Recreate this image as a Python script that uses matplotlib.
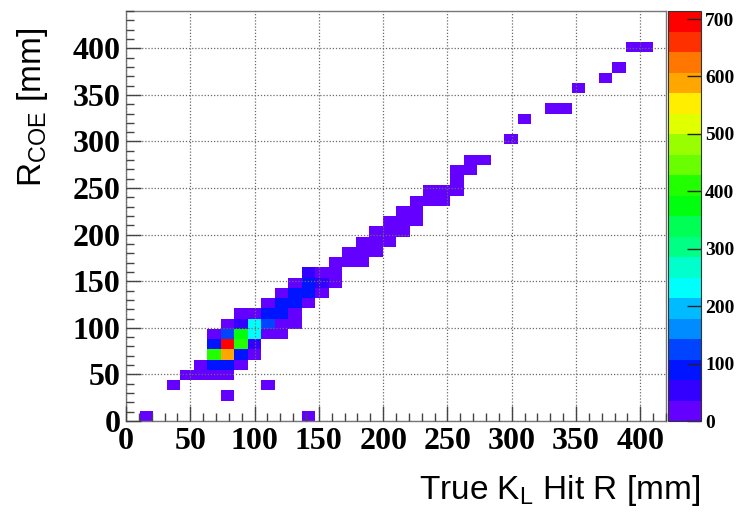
import numpy as np
import matplotlib
matplotlib.use('Agg')
import matplotlib.pyplot as plt
from matplotlib.colors import ListedColormap, BoundaryNorm
from matplotlib.ticker import MultipleLocator
import colorsys

# ---- data: bin centres (mm) and bin contents ----
true_r = [15.75, 141.75,
          78.75,
          36.75, 110.25,
          47.25, 57.75, 68.25, 78.75,
          57.75, 68.25, 78.75, 89.25,
          68.25, 78.75, 89.25, 99.75,
          68.25, 78.75, 89.25, 99.75,
          68.25, 78.75, 89.25, 99.75, 110.25, 120.75,
          78.75, 89.25, 99.75, 110.25, 120.75, 131.25,
          89.25, 99.75, 110.25, 120.75, 131.25,
          110.25, 120.75, 131.25, 141.75,
          120.75, 131.25, 141.75, 152.25,
          131.25, 141.75, 152.25, 162.75,
          141.75, 152.25, 162.75,
          162.75, 173.25, 183.75,
          173.25, 183.75, 194.25,
          183.75, 194.25, 204.75,
          194.25, 204.75, 215.25,
          204.75, 215.25, 225.75,
          215.25, 225.75,
          225.75, 236.25, 246.75,
          236.25, 246.75, 257.25,
          257.25,
          257.25, 267.75,
          267.75, 278.25,
          299.25,
          309.75,
          330.75, 341.25,
          351.75,
          372.75,
          383.25,
          393.75, 404.25]
r_coe = [5.5, 5.5,
         27.5,
         38.5, 38.5,
         49.5, 49.5, 49.5, 49.5,
         60.5, 60.5, 60.5, 60.5,
         71.5, 71.5, 71.5, 71.5,
         82.5, 82.5, 82.5, 82.5,
         93.5, 93.5, 93.5, 93.5, 93.5, 93.5,
         104.5, 104.5, 104.5, 104.5, 104.5, 104.5,
         115.5, 115.5, 115.5, 115.5, 115.5,
         126.5, 126.5, 126.5, 126.5,
         137.5, 137.5, 137.5, 137.5,
         148.5, 148.5, 148.5, 148.5,
         159.5, 159.5, 159.5,
         170.5, 170.5, 170.5,
         181.5, 181.5, 181.5,
         192.5, 192.5, 192.5,
         203.5, 203.5, 203.5,
         214.5, 214.5, 214.5,
         225.5, 225.5,
         236.5, 236.5, 236.5,
         247.5, 247.5, 247.5,
         258.5,
         269.5, 269.5,
         280.5, 280.5,
         302.5,
         324.5,
         335.5, 335.5,
         357.5,
         368.5,
         379.5,
         401.5, 401.5]
counts = [8, 8,
          12,
          10, 8,
          15, 20, 25, 25,
          30, 100, 90, 25,
          400, 590, 85, 25,
          105, 714, 420, 60,
          30, 110, 370, 230, 25, 20,
          25, 60, 240, 120, 30, 15,
          20, 30, 100, 95, 30,
          25, 100, 80, 30,
          25, 95, 85, 25,
          20, 80, 55, 15,
          45, 30, 20,
          20, 25, 15,
          15, 25, 15,
          15, 20, 15,
          15, 20, 10,
          12, 20, 12,
          15, 15,
          12, 15, 10,
          10, 12, 10,
          10,
          10, 8,
          8, 6,
          5,
          5,
          5, 5,
          4,
          4,
          4,
          4, 4]

x_ticks = [0, 50, 100, 150, 200, 250, 300, 350, 400]
y_ticks = [0, 50, 100, 150, 200, 250, 300, 350, 400]
z_ticks = [0, 100, 200, 300, 400, 500, 600, 700]

# ---- style ----
hues = [263.2, 252, 235.2, 224, 207.2, 196, 179.2, 168, 151.2, 140,
        123.2, 112, 95.2, 84, 67.2, 56, 39.2, 28, 11.2, 0]
cols = [colorsys.hls_to_rgb(h / 360.0, 0.5, 1.0) for h in hues]
cmap = ListedColormap(cols)
zmax = max(counts)
norm = BoundaryNorm(np.linspace(0, zmax, 21), cmap.N)

plt.rcParams['mathtext.fontset'] = 'custom'
plt.rcParams['mathtext.rm'] = 'Liberation Sans'

fig = plt.figure(figsize=(7.39, 5.15), dpi=100)
ax = fig.add_axes([126 / 739, 94 / 515, 540 / 739, 410 / 515])
cax = fig.add_axes([668 / 739, 94 / 515, 33 / 739, 410 / 515])

xedges = np.linspace(0, 420, 41)
yedges = np.linspace(0, 440, 41)
h, _, _, mesh = ax.hist2d(true_r, r_coe, bins=[xedges, yedges], weights=counts,
                          cmap=cmap, norm=norm, cmin=1)

ax.set_xlim(0, 420)
ax.set_ylim(0, 440)
ax.set_xticks(x_ticks)
ax.set_yticks(y_ticks)
ax.xaxis.set_minor_locator(MultipleLocator(10))
ax.yaxis.set_minor_locator(MultipleLocator(10))
ax.set_axisbelow(False)
ax.grid(True, which='major', color='#6a6a6a', linestyle=(0, (1, 1.5)), linewidth=0.9)
ax.tick_params(which='major', direction='in', length=11, width=1, color='#444444', pad=4)
ax.tick_params(which='minor', direction='in', length=5.5, width=1, color='#444444')
for lab in ax.get_xticklabels() + ax.get_yticklabels():
    lab.set_fontfamily('Liberation Serif')
    lab.set_fontweight('bold')
    lab.set_fontsize(23)
for sp in ax.spines.values():
    sp.set_color('#777777')
    sp.set_linewidth(1)

cb = fig.colorbar(mesh, cax=cax, ticks=z_ticks)
cb.outline.set_linewidth(0.8)
cb.outline.set_edgecolor('#333333')
cax.yaxis.set_ticks_position('right')
cax.tick_params(direction='in', length=10, width=1, color='#222222', pad=3)
cax.minorticks_off()
for lab in cax.get_yticklabels():
    lab.set_fontfamily('Liberation Serif')
    lab.set_fontweight('bold')
    lab.set_fontsize(14)

fig.text(700 / 739, 1 - 490 / 515, r'True K$_{\mathrm{L}}$ Hit R [mm]',
         ha='right', va='center', fontsize=24, family='Liberation Sans')
fig.text(32 / 739, 1 - 28 / 515, r'R$_{\mathrm{COE}}$ [mm]', rotation=90,
         ha='center', va='top', fontsize=24, family='Liberation Sans')

fig.savefig('out.png', dpi=100)
